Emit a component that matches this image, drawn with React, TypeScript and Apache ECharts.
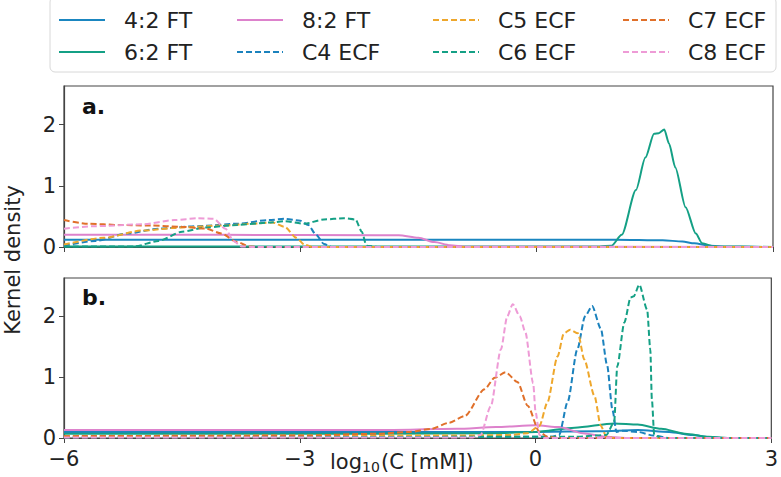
import React, { useEffect, useRef } from "react";
import * as echarts from "echarts";

// ---------- data (x = log10(C [mM]), y = kernel density) ----------
const seriesNames = ["4:2 FT", "6:2 FT", "8:2 FT", "C4 ECF", "C5 ECF", "C6 ECF", "C7 ECF", "C8 ECF"];
const seriesColors = ["#1a86c0", "#14a085", "#dd82cc", "#1b82bd", "#eea72c", "#14a085", "#e0702a", "#ee9bd6"];
const seriesDashed = [false, false, false, true, true, true, true, true];

const xTicks = [-6, -3, 0, 3];
const yTicks = [0, 1, 2];

// panel a.
const a_FT42: [number, number][] = [[-6, 0.12], [-3, 0.12], [0, 0.12], [1, 0.12], [1.6, 0.11], [1.85, 0.09], [2.0, 0.06], [2.2, 0.02], [2.4, 0.005], [3, 0]];
const a_FT62: [number, number][] = [[-6, 0.01], [0, 0.01], [0.8, 0.01], [0.95, 0.02], [1.08, 0.2], [1.26, 0.93], [1.38, 1.46], [1.49, 1.85], [1.55, 1.86], [1.62, 1.92], [1.68, 1.69], [1.76, 1.3], [1.89, 0.65], [2.02, 0.22], [2.1, 0.06], [2.25, 0.01], [3, 0]];
const a_FT82: [number, number][] = [[-6, 0.2], [-4, 0.2], [-2, 0.19], [-1.75, 0.19], [-1.5, 0.15], [-1.3, 0.08], [-1.1, 0.03], [-0.9, 0.005], [3, 0]];
const a_C4: [number, number][] = [[-6, 0.02], [-5.6, 0.1], [-5.2, 0.22], [-4.8, 0.3], [-4.3, 0.34], [-3.8, 0.38], [-3.4, 0.44], [-3.2, 0.46], [-3.0, 0.43], [-2.9, 0.36], [-2.8, 0.2], [-2.7, 0.05], [-2.6, 0.0], [3, 0]];
const a_C5: [number, number][] = [[-6, 0.04], [-5.5, 0.15], [-5, 0.27], [-4.5, 0.32], [-4, 0.35], [-3.6, 0.38], [-3.35, 0.4], [-3.2, 0.33], [-3.05, 0.15], [-2.95, 0.04], [-2.85, 0.0], [3, 0]];
const a_C6: [number, number][] = [[-6, 0.01], [-5.1, 0.01], [-4.8, 0.1], [-4.5, 0.25], [-4.2, 0.32], [-3.8, 0.36], [-3.4, 0.4], [-3.2, 0.42], [-2.95, 0.38], [-2.7, 0.45], [-2.45, 0.47], [-2.3, 0.45], [-2.22, 0.25], [-2.16, 0.02], [-2.0, 0], [3, 0]];
const a_C7: [number, number][] = [[-6, 0.44], [-5.7, 0.38], [-5.3, 0.36], [-4.9, 0.35], [-4.5, 0.33], [-4.2, 0.3], [-4.0, 0.22], [-3.8, 0.08], [-3.65, 0.01], [-3.5, 0], [3, 0]];
const a_C8: [number, number][] = [[-6, 0.3], [-5.6, 0.34], [-5, 0.37], [-4.6, 0.44], [-4.3, 0.47], [-4.1, 0.46], [-3.95, 0.3], [-3.85, 0.1], [-3.75, 0.01], [-3.6, 0], [3, 0]];

// panel b.
const b_FT42: [number, number][] = [[-6, 0.1], [-2, 0.1], [0, 0.1], [0.8, 0.11], [1.3, 0.13], [1.7, 0.1], [2.0, 0.05], [2.2, 0.015], [2.4, 0], [3, 0]];
const b_FT62: [number, number][] = [[-6, 0.07], [-2, 0.07], [-0.5, 0.08], [0, 0.1], [0.5, 0.17], [1.0, 0.24], [1.3, 0.22], [1.6, 0.15], [1.9, 0.07], [2.2, 0.02], [2.5, 0], [3, 0]];
const b_FT82: [number, number][] = [[-6, 0.13], [-2, 0.13], [-1, 0.15], [-0.5, 0.18], [0, 0.21], [0.3, 0.18], [0.6, 0.08], [0.9, 0.02], [1.2, 0], [3, 0]];
const b_C4: [number, number][] = [[-6, 0.02], [-1, 0.02], [0.2, 0.02], [0.3, 0.05], [0.41, 0.6], [0.53, 1.45], [0.63, 2.0], [0.72, 2.17], [0.83, 1.8], [0.91, 1.2], [0.98, 0.45], [1.03, 0.1], [1.1, 0.12], [1.3, 0.1], [1.5, 0.04], [1.7, 0], [3, 0]];
const b_C5: [number, number][] = [[-6, 0.03], [-1, 0.04], [-0.3, 0.05], [-0.1, 0.08], [0.05, 0.2], [0.15, 0.58], [0.28, 1.34], [0.36, 1.72], [0.44, 1.78], [0.54, 1.72], [0.62, 1.29], [0.75, 0.69], [0.83, 0.2], [0.9, 0.03], [1.0, 0], [3, 0]];
const b_C6: [number, number][] = [[-6, 0.01], [0.5, 0.02], [0.9, 0.05], [1.0, 0.26], [1.04, 1.18], [1.13, 1.9], [1.21, 2.31], [1.25, 2.33], [1.32, 2.52], [1.42, 2.11], [1.46, 1.46], [1.48, 0.64], [1.51, 0.05], [1.6, 0.0], [3, 0]];
const b_C7: [number, number][] = [[-6, 0.03], [-3, 0.04], [-2, 0.07], [-1.6, 0.1], [-1.33, 0.15], [-1.1, 0.25], [-0.9, 0.36], [-0.65, 0.8], [-0.52, 0.99], [-0.38, 1.08], [-0.23, 0.92], [-0.1, 0.53], [0.05, 0.1], [0.15, 0.02], [0.3, 0], [3, 0]];
const b_C8: [number, number][] = [[-6, 0.01], [-0.8, 0.01], [-0.7, 0.05], [-0.57, 0.52], [-0.44, 1.46], [-0.36, 2.0], [-0.29, 2.2], [-0.2, 2.0], [-0.13, 1.74], [-0.03, 0.9], [0.0, 0.43], [0.05, 0.05], [0.1, 0], [3, 0]];

const panelA = [a_FT42, a_FT62, a_FT82, a_C4, a_C5, a_C6, a_C7, a_C8];
const panelB = [b_FT42, b_FT62, b_FT82, b_C4, b_C5, b_C6, b_C7, b_C8];

const FONT = "DejaVu Sans";

export default function App() {
  const ref = useRef<HTMLDivElement>(null);
  useEffect(() => {
    if (!ref.current) return;
    const chart = echarts.init(ref.current, undefined, { renderer: "svg" });

    const fmt = (v: number) => (v < 0 ? "\u2212" + Math.abs(v) : String(v));
    const mkX = (gi: number, showLabels: boolean) => ({
      type: "value",
      gridIndex: gi,
      min: -6,
      max: 3,
      interval: 3,
      axisLine: { show: true, onZero: false, lineStyle: { color: "#444", width: 1.2 } },
      axisTick: { show: true, inside: false, length: 5, customValues: xTicks, lineStyle: { color: "#444" } },
      axisLabel: { show: showLabels, customValues: xTicks, formatter: fmt, fontSize: 21, fontFamily: FONT, color: "#222", margin: 10, lineHeight: 21 },
      splitLine: { show: false },
    });
    const mkY = (gi: number) => ({
      type: "value",
      gridIndex: gi,
      min: 0,
      max: 2.63,
      interval: 1,
      axisLine: { show: true, onZero: false, lineStyle: { color: "#444", width: 1.2 } },
      axisTick: { show: true, inside: false, length: 5, customValues: yTicks, lineStyle: { color: "#444" } },
      axisLabel: { show: true, customValues: yTicks, fontSize: 21, fontFamily: FONT, color: "#222", margin: 8, lineHeight: 21 },
      splitLine: { show: false },
    });

    const series: any[] = [];
    [panelA, panelB].forEach((panel, pi) => {
      panel.forEach((d, i) => {
        series.push({
          type: "line",
          name: seriesNames[i],
          xAxisIndex: pi,
          yAxisIndex: pi,
          data: d,
          showSymbol: false,
          symbol: "none",
          smooth: 0.25,
          smoothMonotone: "x",
          lineStyle: { color: seriesColors[i], width: 2, type: seriesDashed[i] ? [6, 3] : "solid" },
          itemStyle: { color: seriesColors[i] },
          z: seriesDashed[i] ? 3 : 2,
        });
      });
    });

    const legendCols = [
      { names: [seriesNames[0], seriesNames[1]], left: 58 },
      { names: [seriesNames[2], seriesNames[3]], left: 236 },
      { names: [seriesNames[4], seriesNames[5]], left: 432 },
      { names: [seriesNames[6], seriesNames[7]], left: 622 },
    ];

    chart.setOption({
      animation: false,
      backgroundColor: "#fff",
      grid: [
        { left: 64, top: 86, width: 709, height: 161, show: true, borderColor: "#444", borderWidth: 1.2, backgroundColor: "transparent" },
        { left: 64, top: 278, width: 709, height: 160, show: true, borderColor: "#444", borderWidth: 1.2, backgroundColor: "transparent" },
      ],
      xAxis: [mkX(0, false), mkX(1, true)],
      yAxis: [mkY(0), mkY(1)],
      legend: legendCols.map((c) => ({
        data: c.names,
        left: c.left,
        top: 9,
        orient: "vertical",
        itemWidth: 46,
        itemHeight: 14,
        itemGap: 10,
        padding: 0,
        selectedMode: false,
        itemStyle: { opacity: 0, borderWidth: 0 },
        textStyle: { fontSize: 22, fontFamily: FONT, color: "#222", padding: [0, 0, 0, 14] },
      })),
      graphic: [
        { type: "rect", z: -1, shape: { x: 50, y: -3, width: 726, height: 75, r: 5 }, style: { fill: "#fff", stroke: "#d8d8d8", lineWidth: 1 } },
        { type: "text", x: 82, y: 106, style: { text: "a.", font: `bold 22px "${FONT}"`, fill: "#111", verticalAlign: "middle" } },
        { type: "text", x: 82, y: 297, style: { text: "b.", font: `bold 22px "${FONT}"`, fill: "#111", verticalAlign: "middle" } },
        { type: "text", x: 13, y: 260, rotation: Math.PI / 2, style: { text: "Kernel density", font: `21px "${FONT}"`, fill: "#222", align: "center", verticalAlign: "middle" } },
        { type: "text", x: 330, y: 462, style: { text: "log", font: `21px "${FONT}"`, fill: "#222", verticalAlign: "middle" } },
        { type: "text", x: 362, y: 467, style: { text: "10", font: `14px "${FONT}"`, fill: "#222", verticalAlign: "middle" } },
        { type: "text", x: 381, y: 462, style: { text: "(C [mM])", font: `21px "${FONT}"`, fill: "#222", verticalAlign: "middle" } },
      ],
      series,
    });
    return () => chart.dispose();
  }, []);
  return <div ref={ref} style={{ position: "fixed", left: 0, top: 0, width: 781, height: 477 }} />;
}
